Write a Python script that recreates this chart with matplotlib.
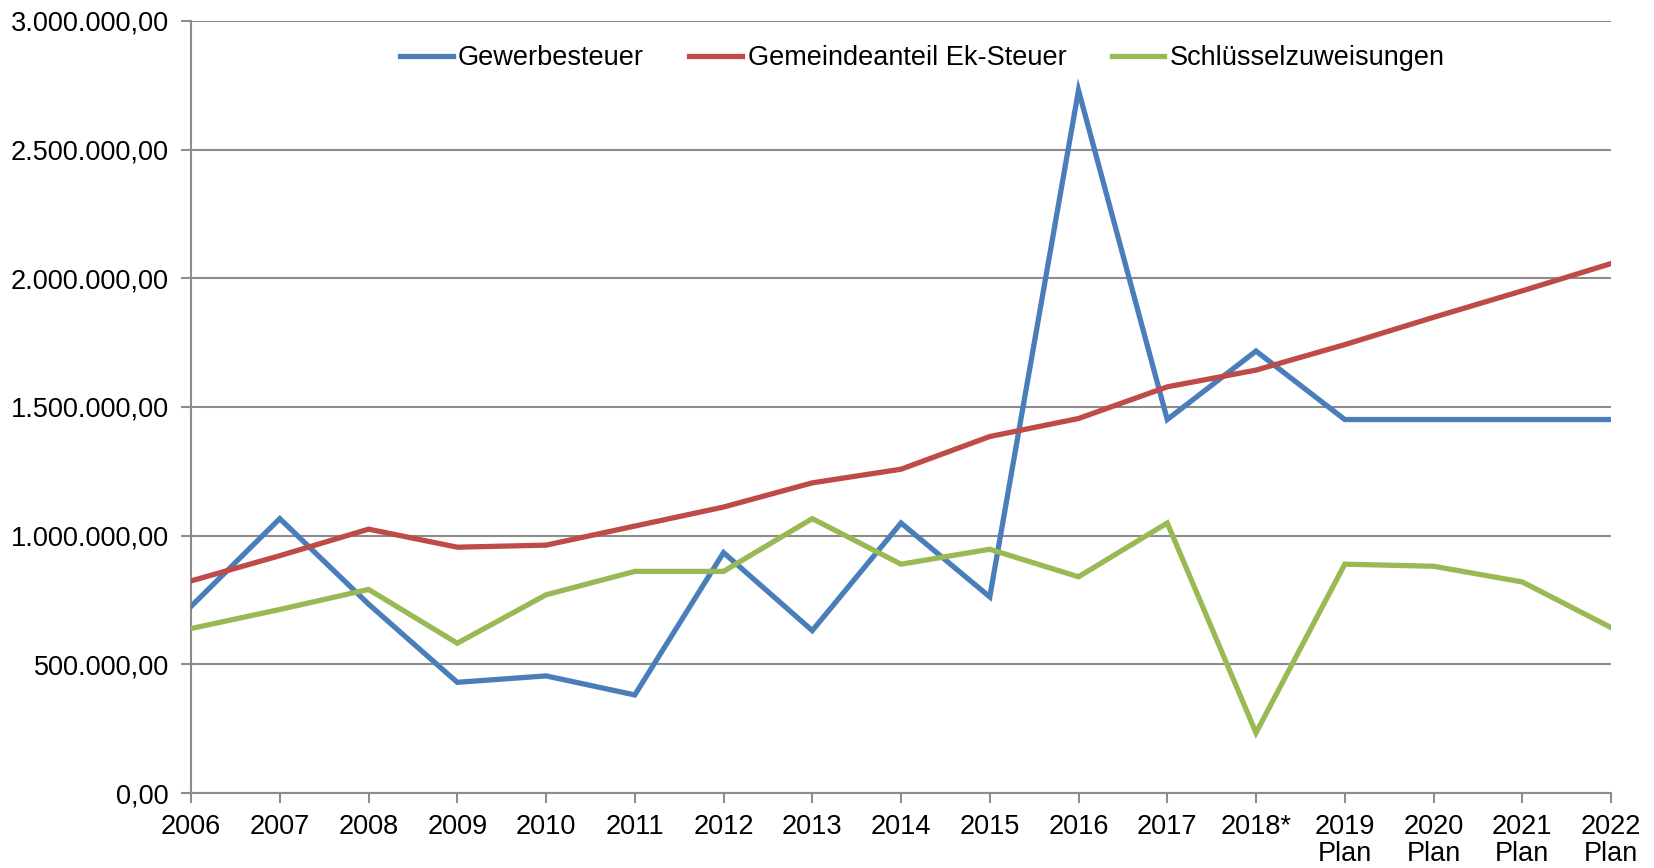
import numpy as np
import matplotlib
matplotlib.use("Agg")
import matplotlib.pyplot as plt
from matplotlib.ticker import FuncFormatter, MultipleLocator

plt.rcParams['font.family'] = ['Liberation Sans', 'DejaVu Sans']

years = ["2006", "2007", "2008", "2009", "2010", "2011", "2012", "2013", "2014",
         "2015", "2016", "2017", "2018*", "2019\nPlan", "2020\nPlan", "2021\nPlan", "2022\nPlan"]

gewerbesteuer = [725000, 1066000, 734000, 430000, 455000, 381000, 934000, 631000, 1049000,
                 762000, 2730000, 1451000, 1717000, 1451000, 1451000, 1451000, 1451000]
einkommensteuer = [824000, 922000, 1025000, 955000, 963000, 1037000, 1111000, 1205000, 1258000,
                   1385000, 1455000, 1578000, 1643000, 1742000, 1848000, 1951000, 2057000]
schluessel = [639000, 713000, 791000, 582000, 770000, 861000, 861000, 1066000, 889000,
              947000, 840000, 1049000, 234000, 889000, 881000, 820000, 643000]

series_names = ["Gewerbesteuer", "Gemeindeanteil Ek-Steuer", "Schlüsselzuweisungen"]
colors = ["#4A7EBB", "#BE4B48", "#98B954"]


def de_format(v, pos):
    s = f"{v:,.2f}"
    return s.replace(",", "X").replace(".", ",").replace("X", ".")


fig = plt.figure(figsize=(16.54, 8.68), dpi=100)
ax = fig.add_axes([0.1155, 0.0864, 0.8585, 0.8896])

x = np.arange(len(years))
for data, name, c in zip([gewerbesteuer, einkommensteuer, schluessel], series_names, colors):
    ax.plot(x, data, color=c, lw=3.8, label=name, solid_joinstyle='miter', zorder=3)

ax.set_xlim(0, len(years) - 1)
ax.set_ylim(0, 3000000)
ax.yaxis.set_major_locator(MultipleLocator(500000))
ax.yaxis.set_major_formatter(FuncFormatter(de_format))
ax.set_xticks(x)
ax.set_xticklabels(years, linespacing=1.05)

ax.grid(axis='y', color='#8C8C8C', lw=1.5, zorder=0)
for side in ['top', 'right']:
    ax.spines[side].set_visible(False)
for side in ['left', 'bottom']:
    ax.spines[side].set_color('#8C8C8C')
    ax.spines[side].set_linewidth(1.5)
ax.tick_params(axis='both', colors='#8C8C8C', labelcolor='black', labelsize=19.5,
               width=1.5, length=7)
ax.tick_params(axis='y', pad=9)
ax.tick_params(axis='x', pad=8)

ax.legend(loc='upper center', bbox_to_anchor=(0.515, 1.0), ncol=3, frameon=False,
          fontsize=19.5, handlelength=1.95, handletextpad=0.2, columnspacing=1.67)

fig.savefig("out.png", dpi=100)
